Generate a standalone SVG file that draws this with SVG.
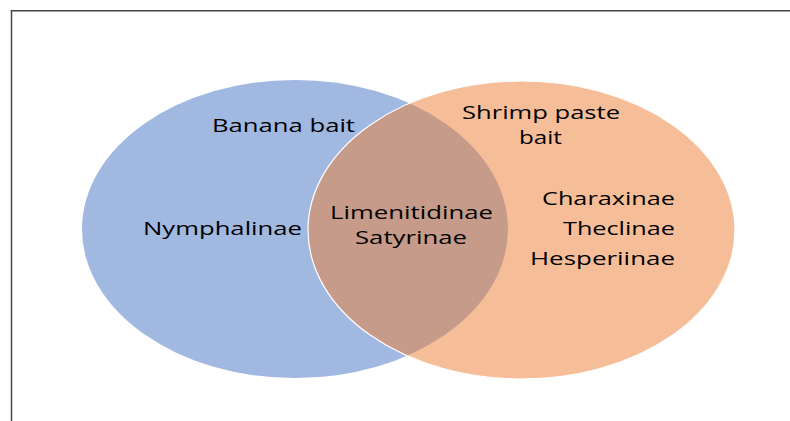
<svg xmlns="http://www.w3.org/2000/svg" width="790" height="421" viewBox="0 0 790 421">
<style>
.lbl{font-family:"Open Sans","Noto Sans",sans-serif;font-size:18.5px;fill:#000;}
.frame{fill:none;stroke:#444;stroke-width:1.5;}
</style>
<rect width="790" height="421" fill="#fff"/>
<path class="frame" d="M11.5 421 V10.75 H790"/>
<g id="banana">
<ellipse cx="295" cy="229" rx="213" ry="149" fill="#4472C4" fill-opacity="0.5"/>
</g>
<g id="shrimp">
<ellipse cx="521.5" cy="230" rx="213.5" ry="149" fill="#ED7D31" fill-opacity="0.5" stroke="#fff" stroke-width="1.2"/>
</g>
<g id="labels">
<text class="lbl" x="212" y="132" textLength="143" lengthAdjust="spacingAndGlyphs">Banana bait</text>
<text class="lbl" x="462" y="118.5" textLength="158" lengthAdjust="spacingAndGlyphs">Shrimp paste</text>
<text class="lbl" x="519" y="144" textLength="43" lengthAdjust="spacingAndGlyphs">bait</text>
<text class="lbl" x="143" y="235" textLength="159" lengthAdjust="spacingAndGlyphs">Nymphalinae</text>
<text class="lbl" x="330" y="218.5" textLength="163" lengthAdjust="spacingAndGlyphs">Limenitidinae</text>
<text class="lbl" x="355" y="244" textLength="112" lengthAdjust="spacingAndGlyphs">Satyrinae</text>
<text class="lbl" x="542" y="205" textLength="133" lengthAdjust="spacingAndGlyphs">Charaxinae</text>
<text class="lbl" x="563" y="235" textLength="112" lengthAdjust="spacingAndGlyphs">Theclinae</text>
<text class="lbl" x="530" y="265" textLength="145" lengthAdjust="spacingAndGlyphs">Hesperiinae</text>
</g>
</svg>
